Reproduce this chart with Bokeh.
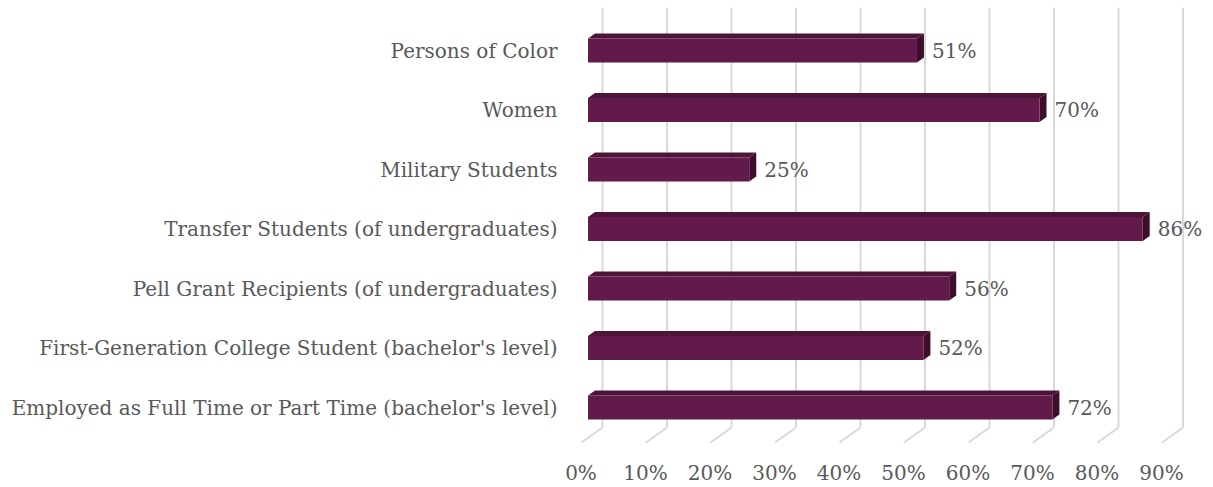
from bokeh.plotting import figure
from bokeh.models import Range1d, FixedTicker, LinearAxis
from bokeh.core.properties import value
from bokeh.embed import file_html
from bokeh.resources import INLINE

# ---- data (bottom to top) ----
categories = [
    "Employed as Full Time or Part Time (bachelor's level)",
    "First-Generation College Student (bachelor's level)",
    "Pell Grant Recipients (of undergraduates)",
    "Transfer Students (of undergraduates)",
    "Military Students",
    "Women",
    "Persons of Color",
]
values = [72, 52, 56, 86, 25, 70, 51]
x_ticks = [0, 10, 20, 30, 40, 50, 60, 70, 80, 90]
x_tick_labels = ["0%", "10%", "20%", "30%", "40%", "50%", "60%", "70%", "80%", "90%"]

# ---- styling / geometry ----
PX_X = 6.45     # pixels per percent
PX_Y = 59.5     # pixels per category
FRONT = "#621A4A"
TOP = "#4E1439"
SIDE = "#3D0D2B"
GRID = "#D9D9D9"
TXT = "#595959"
FONT = "DejaVu Serif"

dx = 7 / PX_X
dy = 5 / PX_Y
hh = 12 / PX_Y
back_off = 14.5 / PX_X
floor_front_off = -6.5 / PX_X
lab_off = -7.0 / PX_X

FRAME_L, FRAME_T, FRAME_W, FRAME_H = 575, 7, 630, 443
x0 = (FRAME_L - 587.5) / PX_X
x1 = x0 + FRAME_W / PX_X
y1 = (407 - FRAME_T) / PX_Y
y0 = y1 - FRAME_H / PX_Y
wall_bottom = (407 - 427) / PX_Y
floor_front = (407 - 442) / PX_Y

p = figure(frame_width=FRAME_W, frame_height=FRAME_H, output_backend="svg",
           toolbar_location=None,
           x_range=Range1d(x0, x1), y_range=Range1d(y0, y1),
           min_border_left=FRAME_L, min_border_right=8, min_border_top=FRAME_T,
           min_border_bottom=37, x_axis_location=None, y_axis_location=None)
p.outline_line_color = None
p.xgrid.visible = False
p.ygrid.visible = False
p.background_fill_color = "white"
p.border_fill_color = "white"

# back-wall gridlines and floor diagonals
gx = [t + back_off for t in x_ticks]
p.segment(x0=gx, y0=[y1] * len(gx), x1=gx, y1=[wall_bottom] * len(gx),
          line_color=GRID, line_width=2)
p.segment(x0=gx, y0=[wall_bottom] * len(gx),
          x1=[t + floor_front_off for t in x_ticks], y1=[floor_front] * len(gx),
          line_color=GRID, line_width=2)

# 3D bars
ypos = list(range(len(categories)))
fx, fy, tx, ty, sx, sy = [], [], [], [], [], []
for i, v in zip(ypos, values):
    fx.append([0, v, v, 0]); fy.append([i - hh, i - hh, i + hh, i + hh])
    tx.append([0, dx, v + dx, v]); ty.append([i + hh, i + hh + dy, i + hh + dy, i + hh])
    sx.append([v, v + dx, v + dx, v]); sy.append([i - hh, i - hh + dy, i + hh + dy, i + hh])
p.patches(tx, ty, fill_color=TOP, line_color=None)
p.patches(sx, sy, fill_color=SIDE, line_color=None)
p.patches(fx, fy, fill_color=FRONT, line_color=None)

# value labels
p.text(x=[v + dx + 8 / PX_X for v in values], y=ypos,
       text=[f"{v}%" for v in values], text_align="left", text_baseline="middle",
       text_font=value(FONT), text_font_size="20px", text_color=TXT)

# y axis (category labels)
yax = LinearAxis(ticker=FixedTicker(ticks=ypos),
                 major_label_overrides={i: c for i, c in zip(ypos, categories)})
yax.axis_line_color = None
yax.major_tick_line_color = None
yax.minor_tick_line_color = None
yax.major_tick_out = 0
yax.major_tick_in = 0
yax.major_label_standoff = 18
yax.major_label_text_font = FONT
yax.major_label_text_font_size = "20px"
yax.major_label_text_color = TXT
p.add_layout(yax, "left")

# x axis (percent labels), positioned at the floor front edge
p.extra_x_ranges = {"lab": Range1d(x0 - lab_off, x1 - lab_off)}
xax = LinearAxis(x_range_name="lab", ticker=FixedTicker(ticks=x_ticks),
                 major_label_overrides={t: l for t, l in zip(x_ticks, x_tick_labels)})
xax.axis_line_color = None
xax.major_tick_line_color = None
xax.minor_tick_line_color = None
xax.major_tick_out = 0
xax.major_tick_in = 0
xax.major_label_standoff = 10
xax.major_label_text_font = FONT
xax.major_label_text_font_size = "20px"
xax.major_label_text_color = TXT
p.add_layout(xax, "below")

open("out.html", "w").write(file_html(p, INLINE))
